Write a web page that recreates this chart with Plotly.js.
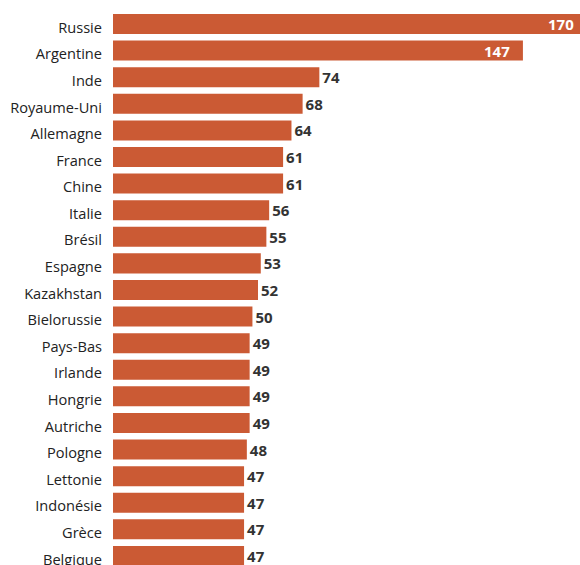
<!DOCTYPE html>
<html>
<head>
<meta charset="utf-8">
<script src="https://cdn.plot.ly/plotly-3.0.1.min.js"></script>
<style>
html, body { margin:0; padding:0; overflow:hidden; background:#fff; width:580px; height:565px; }
#chart { width:601px; height:565px; }
</style>
</head>
<body>
<div id="chart"></div>
<script>
const countries = ["Russie","Argentine","Inde","Royaume-Uni","Allemagne","France","Chine","Italie","Brésil","Espagne","Kazakhstan","Bielorussie","Pays-Bas","Irlande","Hongrie","Autriche","Pologne","Lettonie","Indonésie","Grèce","Belgique"];
const values = [170,147,74,68,64,61,61,56,55,53,52,50,49,49,49,49,48,47,47,47,47];
const insideCount = 2;

const idx = countries.map((c,i) => i);
const outsideLabels = values.map((v,i) => i < insideCount ? "" : String(v));

const barWidth = 0.752;
const labelShift = 0.135;

const trace = {
  type: "bar",
  orientation: "h",
  y: idx,
  x: values,
  width: barWidth,
  offset: -barWidth / 2 - labelShift,
  text: outsideLabels,
  textposition: "outside",
  textangle: 0,
  constraintext: "none",
  cliponaxis: false,
  outsidetextfont: {family: "Open Sans, sans-serif", size: 15, color: "#333333", weight: 700},
  marker: {color: "#cb5a34"},
  hoverinfo: "none"
};

const annotations = values.slice(0, insideCount).map((v,i) => ({
  x: v, y: idx[i] - labelShift, xref: "x", yref: "y",
  text: String(v), showarrow: false,
  xanchor: "right", yanchor: "middle", xshift: -11,
  font: {family: "Open Sans, sans-serif", size: 15, color: "#ffffff", weight: 700}
}));

const layout = {
  width: 601,
  height: 565,
  margin: {l: 113, r: 0, t: 0, b: 0, pad: 0},
  paper_bgcolor: "#ffffff",
  plot_bgcolor: "#ffffff",
  showlegend: false,
  annotations: annotations,
  xaxis: {range: [0, 175], visible: false, fixedrange: true},
  yaxis: {
    range: [20.34 - labelShift, -0.902 - labelShift],
    tickmode: "array", tickvals: idx, ticktext: countries,
    showgrid: false, zeroline: false, showline: false,
    ticks: "", ticklabelstandoff: 10, ticklabeloverflow: "allow",
    tickfont: {family: "Open Sans, sans-serif", size: 14.6, color: "#222222"},
    fixedrange: true
  },
  font: {family: "Open Sans, sans-serif"}
};

Plotly.newPlot("chart", [trace], layout, {displayModeBar: false, staticPlot: true});
</script>
</body>
</html>
